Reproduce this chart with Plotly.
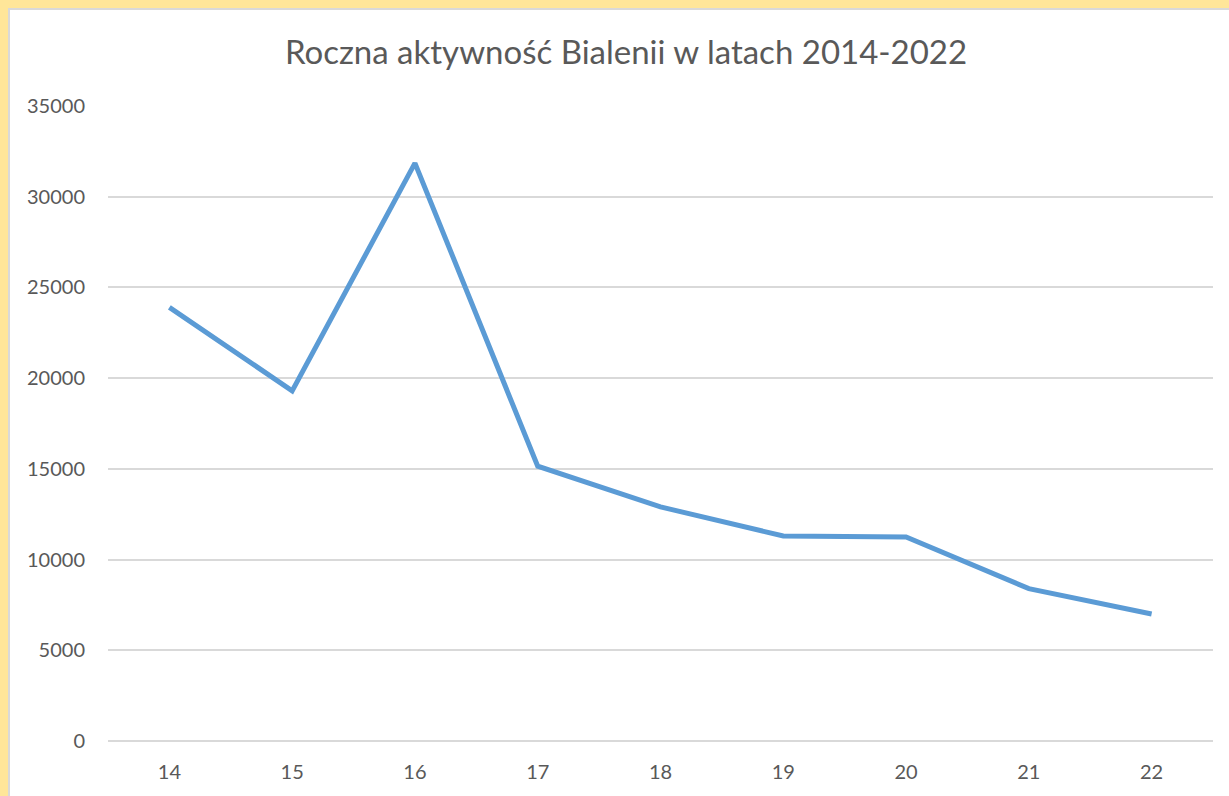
import plotly.graph_objects as go

years = ["14", "15", "16", "17", "18", "19", "20", "21", "22"]
activity = [23900, 19300, 31850, 15150, 12900, 11300, 11250, 8400, 7000]
title_text = "Roczna aktywność Bialenii w latach 2014-2022"

W, H = 1229, 796
L, R, T, B = 108, 16, 106, 55
pw, ph = W - L - R, H - T - B

def px_x(p):
    return (p - L) / pw

def px_y(p):
    return (H - B - p) / ph

fig = go.Figure()
fig.add_trace(go.Scatter(
    x=years, y=activity, mode="lines",
    line=dict(color="#5B9BD5", width=5),
    hoverinfo="x+y", showlegend=False,
))

shapes = [
    dict(type="rect", xref="paper", yref="paper", layer="below",
         x0=px_x(-5), x1=px_x(W + 5), y0=px_y(H + 5), y1=px_y(-5),
         fillcolor="#FFE699", line=dict(width=0)),
    dict(type="rect", xref="paper", yref="paper", layer="below",
         x0=px_x(9), x1=px_x(W + 5), y0=px_y(H + 5), y1=px_y(9),
         fillcolor="#FFFFFF", line=dict(color="#D9D9D9", width=2)),
]

fig.update_layout(
    width=W, height=H,
    margin=dict(l=L, r=R, t=T, b=B),
    paper_bgcolor="#FFFFFF", plot_bgcolor="rgba(0,0,0,0)",
    shapes=shapes,
    title=dict(text=title_text, x=626 / W, xanchor="center",
               y=1 - 52 / H, yanchor="middle",
               font=dict(family="Lato", size=33, color="#595959")),
    font=dict(family="Lato", size=20, color="#595959"),
    xaxis=dict(type="category", range=[-0.5, len(years) - 0.5],
               showgrid=False, zeroline=False, showline=False,
               ticks="", ticklabelstandoff=17,
               tickfont=dict(size=20, color="#595959")),
    yaxis=dict(range=[0, 35000], dtick=5000, tickformat="d",
               showgrid=True, gridcolor="#D9D9D9", gridwidth=1.5,
               zeroline=True, zerolinecolor="#D9D9D9", zerolinewidth=1.5,
               showline=False, ticks="", ticklabelstandoff=22,
               tickfont=dict(size=20, color="#595959")),
)

fig.write_html("out.html", config={"displayModeBar": False},
               post_script="document.body.style.margin='0';document.body.style.overflow='hidden';")
